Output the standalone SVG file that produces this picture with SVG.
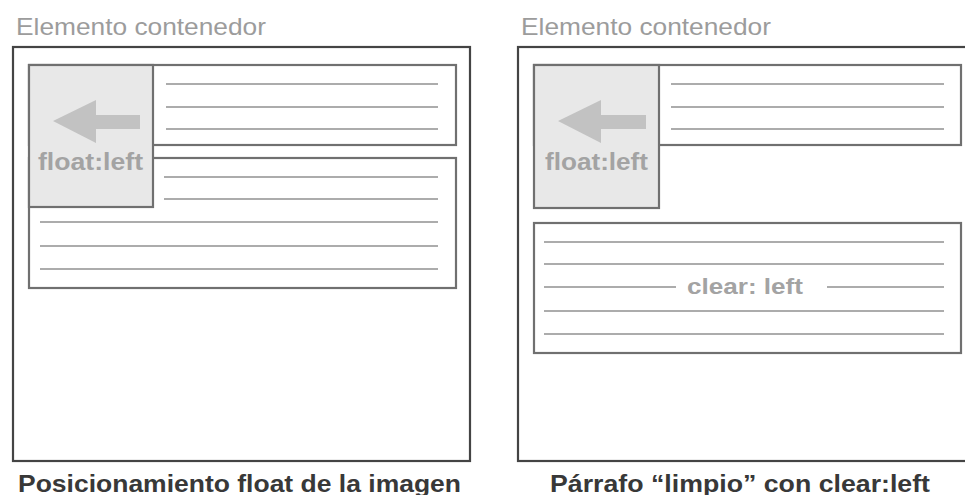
<svg xmlns="http://www.w3.org/2000/svg" width="965" height="495" viewBox="0 0 965 495">
<style>
.bg{fill:#ffffff}
.outer{fill:#ffffff;stroke:#444444;stroke-width:2.2}
.para{fill:#ffffff;stroke:#707070;stroke-width:2.2}
.float{fill:#e8e8e8;stroke:#707070;stroke-width:2.2}
.line{stroke:#acacac;stroke-width:1.8;fill:none}
.arrow{fill:#c2c2c2}
.title{font-family:"Liberation Sans",Arial,sans-serif;font-size:24px;fill:#9c9c9c}
.flabel{font-family:"Liberation Sans",Arial,sans-serif;font-size:24px;font-weight:bold;fill:#a3a3a3}
.clabel{font-family:"Liberation Sans",Arial,sans-serif;font-size:22px;font-weight:bold;fill:#a3a3a3}
.caption{font-family:"Liberation Sans",Arial,sans-serif;font-size:24.5px;font-weight:bold;fill:#383838}
</style>
<rect class="bg" x="0" y="0" width="965" height="495"/>

<g id="left-panel">
  <text class="title" x="16" y="35" textLength="250" lengthAdjust="spacingAndGlyphs">Elemento contenedor</text>
  <rect class="outer" x="13" y="47" width="457" height="414"/>
  <g id="left-para1">
    <rect class="para" x="29" y="65" width="427" height="80"/>
    <line class="line" x1="166" y1="84" x2="438" y2="84"/>
    <line class="line" x1="166" y1="107" x2="438" y2="107"/>
    <line class="line" x1="166" y1="129" x2="438" y2="129"/>
  </g>
  <g id="left-para2">
    <rect class="para" x="29" y="158" width="427" height="130"/>
    <line class="line" x1="164" y1="177" x2="438" y2="177"/>
    <line class="line" x1="164" y1="199" x2="438" y2="199"/>
    <line class="line" x1="40" y1="222" x2="438" y2="222"/>
    <line class="line" x1="40" y1="246" x2="438" y2="246"/>
    <line class="line" x1="40" y1="269" x2="438" y2="269"/>
  </g>
  <g id="left-float">
    <rect class="float" x="29" y="65" width="124" height="142"/>
    <polygon class="arrow" points="53,121 96,100 96,115 140,115 140,129 96,129 96,143"/>
    <text class="flabel" x="38" y="169.5" textLength="105" lengthAdjust="spacingAndGlyphs">float:left</text>
  </g>
  <text class="caption" x="18" y="491.5" textLength="443" lengthAdjust="spacingAndGlyphs">Posicionamiento float de la imagen</text>
</g>

<g id="right-panel">
  <text class="title" x="521" y="35" textLength="250" lengthAdjust="spacingAndGlyphs">Elemento contenedor</text>
  <rect class="outer" x="518" y="47" width="460" height="414"/>
  <g id="right-para1">
    <rect class="para" x="534" y="65" width="427" height="80"/>
    <line class="line" x1="671" y1="84" x2="944" y2="84"/>
    <line class="line" x1="671" y1="107" x2="944" y2="107"/>
    <line class="line" x1="671" y1="129" x2="944" y2="129"/>
  </g>
  <g id="right-float">
    <rect class="float" x="534" y="65" width="125" height="143"/>
    <polygon class="arrow" points="558,121 601,100 601,115 646,115 646,129 601,129 601,143"/>
    <text class="flabel" x="545" y="169.5" textLength="103" lengthAdjust="spacingAndGlyphs">float:left</text>
  </g>
  <g id="right-clear">
    <rect class="para" x="534" y="223" width="427" height="130"/>
    <line class="line" x1="544" y1="242" x2="944" y2="242"/>
    <line class="line" x1="544" y1="264" x2="944" y2="264"/>
    <line class="line" x1="544" y1="287" x2="676" y2="287"/>
    <line class="line" x1="827" y1="287" x2="944" y2="287"/>
    <line class="line" x1="544" y1="311" x2="944" y2="311"/>
    <line class="line" x1="544" y1="334" x2="944" y2="334"/>
    <text class="clabel" x="687" y="294" textLength="116" lengthAdjust="spacingAndGlyphs">clear: left</text>
  </g>
  <text class="caption" x="550" y="491.5" textLength="380" lengthAdjust="spacingAndGlyphs">Párrafo “limpio” con clear:left</text>
</g>

<g id="connectors"></g>
</svg>
